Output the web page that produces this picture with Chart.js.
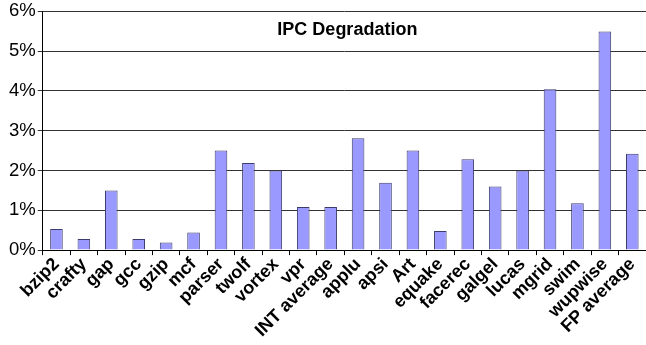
<!DOCTYPE html>
<html>
<head>
<meta charset="utf-8">
<script src="https://cdn.jsdelivr.net/npm/chart.js@4/dist/chart.umd.min.js"></script>
<style>
html,body{margin:0;padding:0;background:#fff;}
#c{display:block;}
</style>
</head>
<body>
<canvas id="c" width="646" height="345"></canvas>
<script>
const categories = ["bzip2","crafty","gap","gcc","gzip","mcf","parser","twolf","vortex","vpr","INT average","applu","apsi","Art","equake","facerec","galgel","lucas","mgrid","swim","wupwise","FP average"];
const ipcDegradation = [0.53,0.28,1.5,0.28,0.19,0.44,2.5,2.19,2.0,1.08,1.08,2.81,1.69,2.5,0.48,2.28,1.6,2.0,4.04,1.18,5.49,2.42];
const yTicks = [0,1,2,3,4,5,6];
const chartTitle = "IPC Degradation";

const titlePlugin = {
  id: 'innerTitle',
  afterDraw(chart) {
    const ctx = chart.ctx, a = chart.chartArea;
    ctx.save();
    ctx.font = 'bold 18px "Liberation Sans", Arial, sans-serif';
    ctx.fillStyle = '#000';
    ctx.textAlign = 'center';
    ctx.textBaseline = 'middle';
    ctx.fillText(chartTitle, (a.left + a.right) / 2 + 3, a.top + 19);
    ctx.restore();
  }
};

new Chart(document.getElementById('c'), {
  type: 'bar',
  data: {
    labels: categories,
    datasets: [{
      data: ipcDegradation,
      backgroundColor: '#9999ff',
      borderColor: '#3c3c6c',
      borderWidth: 1,
      borderSkipped: 'bottom',
      categoryPercentage: 1.0,
      barPercentage: 0.46
    }]
  },
  options: {
    responsive: false,
    animation: false,
    layout: { padding: { top: 0, right: 0, left: 7, bottom: 5 } },
    plugins: { legend: { display: false }, tooltip: { enabled: false } },
    scales: {
      x: {
        offset: true,
        grid: { display: true, drawOnChartArea: false, drawTicks: true, tickLength: 5, offset: true, color: '#000' },
        border: { display: true, color: '#000', width: 1 },
        ticks: {
          minRotation: 45, maxRotation: 45, autoSkip: false, padding: 0,
          color: '#000',
          font: { family: '"Liberation Sans", Arial, sans-serif', size: 18, weight: 'bold', lineHeight: 1.0 }
        }
      },
      y: {
        min: 0, max: 6,
        afterBuildTicks(scale) { scale.ticks = yTicks.map(v => ({ value: v })); },
        grid: { color: '#333', drawTicks: true, tickLength: 5 },
        border: { display: true, color: '#000', width: 1 },
        ticks: {
          padding: 2,
          color: '#000',
          font: { family: '"Liberation Sans", Arial, sans-serif', size: 18.5, lineHeight: 1.0 },
          callback: v => v + '%'
        }
      }
    }
  },
  plugins: [titlePlugin]
});
</script>
</body>
</html>
